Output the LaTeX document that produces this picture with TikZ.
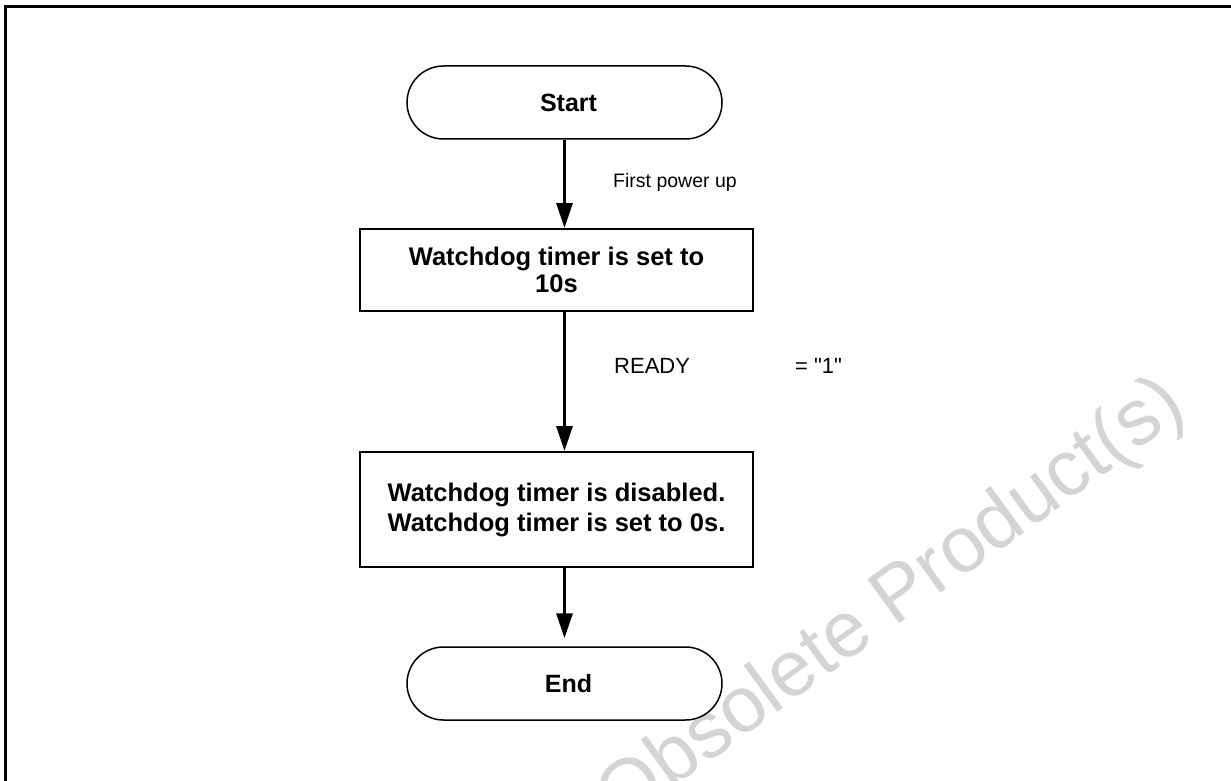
\documentclass[tikz,border=0pt]{standalone}
\usepackage{fontspec}
\setmainfont{Liberation Sans}[Ligatures=TeXOff]
\usetikzlibrary{arrows.meta,shapes.misc,calc}
\definecolor{wmgray}{RGB}{212,212,212}
\begin{document}
\begin{tikzpicture}[x=1pt,y=-1pt,
  terminal/.style={rounded rectangle, draw, line width=1.5pt, minimum width=315pt,
    minimum height=73pt, inner sep=0pt, font=\fontsize{25}{27}\selectfont\bfseries},
  procbox/.style={rectangle, draw, line width=2pt, minimum width=393pt, inner sep=0pt,
    align=center},
  flow/.style={line width=3pt, -{Triangle[length=25pt,width=16pt]}},
  lbl/.style={anchor=base west, inner sep=0pt, font=\fontsize{22}{24}\selectfont},
  frameline/.style={line width=3pt},
  watermark/.style={text=wmgray, font=\fontsize{79}{80}\selectfont, rotate=36, inner sep=0pt}]
\useasboundingbox (0,0) rectangle (1231,781);
% watermark
\node[watermark] (wm) at (893,603) {Obsolete Product(s)};
% frame
\coordinate (fbl) at (5,800);
\coordinate (ftl) at (5,7);
\coordinate (ftr) at (1250,7);
\draw[frameline] (fbl) -- (ftl) -- (ftr);
% nodes
\node[terminal] (start) at (564.5,102.5) {\hspace*{8pt}Start};
\node[procbox, minimum height=82pt, font=\fontsize{25.5}{27}\selectfont\bfseries] (box1) at (556.5,270)
  {Watchdog timer is set to\\10s};
\node[procbox, minimum height=115pt, font=\fontsize{25.5}{30}\selectfont\bfseries] (box2) at (556.5,509.5)
  {Watchdog timer is disabled.\\Watchdog timer is set to 0s.};
\node[terminal] (end) at (564.5,683.5) {\hspace*{8pt}End};
% connectors
\draw[flow] (start.south) -- (start.south |- box1.north);
\draw[flow] (start.south |- box1.south) -- (start.south |- box2.north);
\draw[flow, shorten >=8pt] (start.south |- box2.south) -- (end.north);
% labels
\node[lbl, font=\fontsize{19.5}{21}\selectfont] (l1) at (613,187) {First power up};
\node[lbl] (l2) at (614,373) {READY};
\node[lbl] (l3) at (795,373) {= "1"};
\end{tikzpicture}
\end{document}
